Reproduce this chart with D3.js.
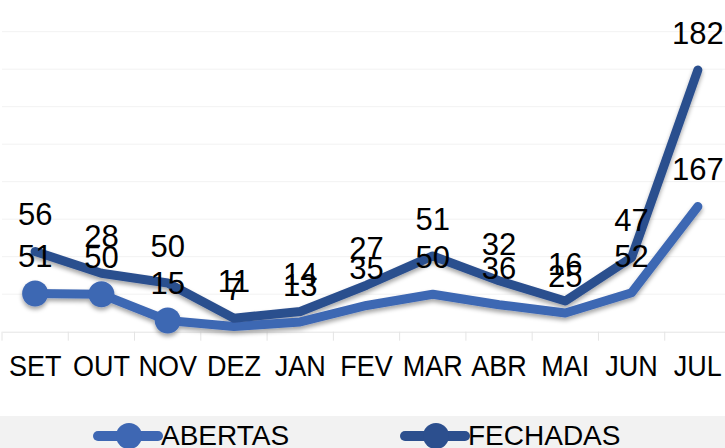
<!DOCTYPE html>
<html>
<head>
<meta charset="utf-8">
<script src="https://cdn.jsdelivr.net/npm/d3@7"></script>
<style>
  body { margin: 0; background: #fff; }
  text { font-family: "Liberation Sans", Arial, sans-serif; fill: #000; }
</style>
</head>
<body>
<div id="chart"></div>
<script>
let months = ["SET", "OUT", "NOV", "DEZ", "JAN", "FEV", "MAR", "ABR", "MAI", "JUN", "JUL"];
let abertas = [51, 50, 15, 7, 13, 35, 50, 36, 25, 52, 167];
let fechadas = [56, 28, 50, 11, 14, 27, 51, 32, 16, 47, 182];
let abertasMarked = ["SET", "OUT", "NOV"]; // only these points carry a marker
let yTicks = [0, 50, 100, 150, 200, 250, 300, 350, 400];
let seriesNames = ["ABERTAS", "FECHADAS"];
let seriesColors = ["#3e67b3", "#2c4f8e"];

let width = 725, height = 448;
let plot = { left: 2, right: 731, top: 31.7, bottom: 331.7 };

let rows = months.map((m, i) => ({ month: m, ABERTAS: abertas[i], FECHADAS: fechadas[i] }));
// stacked line chart: FECHADAS sits on top of ABERTAS
let stacked = d3.stack().keys(seriesNames)(rows);

let x = d3.scaleBand().domain(months).range([plot.left, plot.right]).padding(0);
let cx = (m) => x(m) + x.bandwidth() / 2;
let y = d3.scaleLinear().domain([0, 400]).range([plot.bottom, plot.top]);

let svg = d3.select("#chart").append("svg")
  .attr("width", width)
  .attr("height", height);

let defs = svg.append("defs");
defs.append("filter")
  .attr("id", "shadow")
  .attr("x", "-20%").attr("y", "-20%").attr("width", "140%").attr("height", "140%")
  .append("feDropShadow")
  .attr("dx", 0).attr("dy", 3).attr("stdDeviation", 2.2)
  .attr("flood-color", "#000").attr("flood-opacity", 0.35);

// gridlines
svg.append("g")
  .selectAll("line")
  .data(yTicks.slice(1))
  .enter()
  .append("line")
  .attr("x1", plot.left).attr("x2", plot.right)
  .attr("y1", (d) => y(d)).attr("y2", (d) => y(d))
  .attr("stroke", "#f2f2f2").attr("stroke-width", 1);

// category axis
let xAxis = svg.append("g")
  .attr("transform", `translate(0,${plot.bottom})`)
  .call(d3.axisBottom(x).tickSize(0).tickPadding(0).tickFormat(""));
xAxis.select(".domain").attr("stroke", "#e4e4e4");
xAxis.append("g")
  .selectAll("line")
  .data(months.concat(["__end"]))
  .enter()
  .append("line")
  .attr("x1", (d, i) => plot.left + i * x.bandwidth())
  .attr("x2", (d, i) => plot.left + i * x.bandwidth())
  .attr("y1", 0).attr("y2", 9)
  .attr("stroke", "#e4e4e4");

svg.append("g")
  .selectAll("text")
  .data(months)
  .enter()
  .append("text")
  .attr("transform", (d) => `translate(${cx(d)},${plot.bottom + 44}) scale(0.9,1)`)
  .attr("text-anchor", "middle")
  .attr("font-size", 30)
  .text((d) => d);

// lines
let line = d3.line()
  .x((d) => cx(d.data.month))
  .y((d) => y(d[1]));

let lineGroup = svg.append("g").attr("filter", "url(#shadow)");
stacked.forEach((s, k) => {
  lineGroup.append("path")
    .datum(s)
    .attr("d", line)
    .attr("fill", "none")
    .attr("stroke", seriesColors[k])
    .attr("stroke-width", 9)
    .attr("stroke-linecap", "round")
    .attr("stroke-linejoin", "round");
});
// ABERTAS markers
lineGroup.selectAll("circle")
  .data(stacked[0].filter((d) => abertasMarked.includes(d.data.month)))
  .enter()
  .append("circle")
  .attr("cx", (d) => cx(d.data.month))
  .attr("cy", (d) => y(d[1]))
  .attr("r", 13)
  .attr("fill", seriesColors[0]);

// value labels above each point
stacked.forEach((s, k) => {
  svg.append("g")
    .selectAll("text")
    .data(s)
    .enter()
    .append("text")
    .attr("x", (d) => cx(d.data.month))
    .attr("y", (d) => y(d[1]) - 26)
    .attr("text-anchor", "middle")
    .attr("font-size", 31)
    .text((d) => d.data[s.key]);
});

// legend
svg.append("rect")
  .attr("x", 0).attr("y", 416)
  .attr("width", width).attr("height", height - 416)
  .attr("fill", "#f2f2f2");

let legendX = [98, 405];
let legend = svg.append("g")
  .selectAll("g")
  .data(seriesNames)
  .enter()
  .append("g")
  .attr("transform", (d, i) => `translate(${legendX[i]},436)`);
legend.append("line")
  .attr("x1", 0).attr("x2", 60)
  .attr("stroke", (d, i) => seriesColors[i])
  .attr("stroke-width", 10)
  .attr("stroke-linecap", "round");
legend.append("circle")
  .attr("cx", 31).attr("r", 13)
  .attr("fill", (d, i) => seriesColors[i]);
legend.append("text")
  .attr("x", 63).attr("y", 9)
  .attr("font-size", 28)
  .text((d) => d);
</script>
</body>
</html>
